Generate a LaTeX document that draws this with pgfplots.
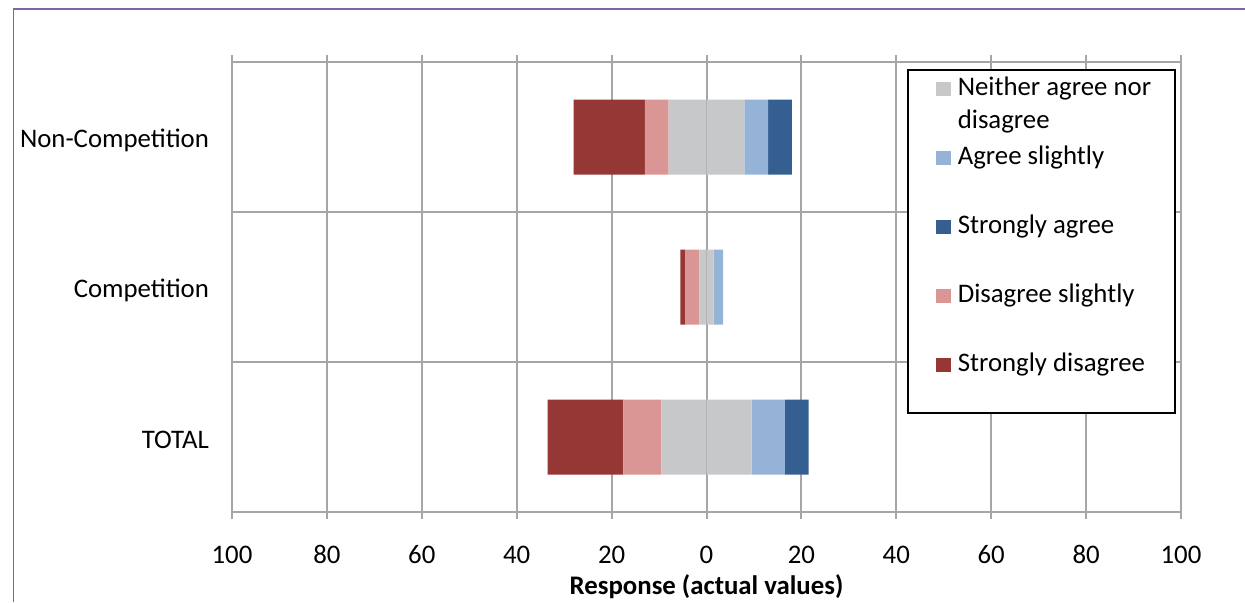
\documentclass[border=0pt]{standalone}
\usepackage{pgfplots}
\pgfplotsset{compat=1.18}
\usepackage{fontspec}
\setmainfont{Carlito}
\definecolor{sd}{HTML}{953735}
\definecolor{ds}{HTML}{D99694}
\definecolor{nn}{HTML}{C7C8CA}
\definecolor{as}{HTML}{95B3D7}
\definecolor{sa}{HTML}{355F91}
\definecolor{gridg}{HTML}{A6A6A8}
\definecolor{framep}{HTML}{8064A2}
\begin{document}
\begin{tikzpicture}
\path[use as bounding box] (0,0) rectangle (622.5pt,301pt);
\draw[framep, line width=0.7pt] (6.8pt,0pt) -- (6.8pt,296.6pt) -- (622.5pt,296.6pt);
\pgfplotsset{
 base/.style={
  scale only axis, width=474.5pt, height=225pt,
  at={(116pt,45pt)}, anchor=south west,
  xmin=-100, xmax=100, ymin=0.5, ymax=3.5,
  xbar stacked, bar width=0.5,
  font=\fontsize{13.4pt}{16.5pt}\selectfont,
 }
}
\begin{axis}[base,
  xtick={-100,-80,...,100},
  xticklabels={100,80,60,40,20,0,20,40,60,80,100},
  ytick={1,2,3}, yticklabels={TOTAL,Competition,Non-Competition},
  minor ytick={1.5,2.5},
  xmajorgrids, yminorgrids,
  grid style={gridg, line width=1pt},
  axis line style={gridg, line width=1pt},
  xtick pos=both, tick align=outside, major tick length=3.5pt, minor tick length=0pt,
  xtick style={gridg, line width=1pt},
  ytick style={draw=none},
  xticklabel style={anchor=base, yshift=-22pt},
  yticklabel style={xshift=-4.5pt, yshift=-1.5pt},
  xlabel={\bfseries Response (actual values)},
  xlabel style={at={(axis description cs:0.5,0)}, anchor=base, yshift=-41.3pt},
]
\addplot[fill=nn, draw=none] coordinates {(-9.5,1) (-1.5,2) (-8,3)};
\addplot[fill=ds, draw=none] coordinates {(-8,1) (-3,2) (-5,3)};
\addplot[fill=sd, draw=none] coordinates {(-16,1) (-1,2) (-15,3)};
\end{axis}
\begin{axis}[base, hide axis,
  legend style={at={(0.7113,0.9844)}, anchor=north west, draw=black, line width=0.75pt,
    inner xsep=14pt, inner ysep=3pt, row sep=7pt, column sep=3.5pt,
    font=\fontsize{13.4pt}{16.5pt}\selectfont,
    nodes={inner sep=0pt, text height=10pt, text depth=17.5pt},
    cells={anchor=base west}},
  legend image code/.code={\fill[#1] (0pt,0pt) rectangle (7.5pt,7pt);},
]
\addplot[fill=nn, draw=none] coordinates {(9.5,1) (1.5,2) (8,3)};
\addlegendentry{\parbox[t]{94.5pt}{\mbox{Neither agree nor}\\disagree}}
\addplot[fill=as, draw=none] coordinates {(7,1) (2,2) (5,3)};
\addlegendentry{Agree slightly}
\addplot[fill=sa, draw=none] coordinates {(5,1) (0,2) (5,3)};
\addlegendentry{Strongly agree}
\addlegendimage{fill=ds, draw=none}
\addlegendentry{Disagree slightly}
\addlegendimage{fill=sd, draw=none}
\addlegendentry{Strongly disagree}
\draw[gridg, line width=1pt] (axis cs:0,0.5) -- (axis cs:0,3.5);
\end{axis}
\end{tikzpicture}
\end{document}
